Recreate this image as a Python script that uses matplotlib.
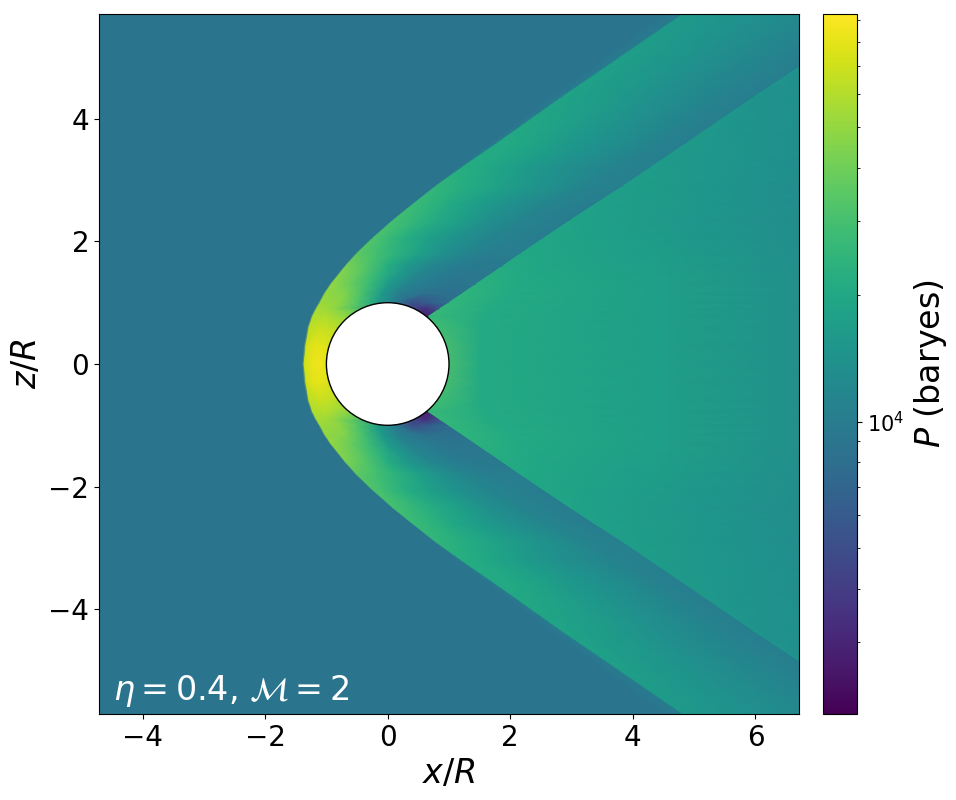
import numpy as np
import matplotlib
matplotlib.use("Agg")
import matplotlib.pyplot as plt
from matplotlib.colors import LogNorm
from matplotlib.patches import Circle

# Upper-half rows of the pressure map (mirrored about z = 0).
z_rows = [0, .3, .6, .78, .9, 1.0, 1.15, 1.3, 1.6, 1.8, 2.05, 2.35, 2.6, 2.9, 3.2, 3.6, 4.36, 5.71]
shock_x = [-1.37, -1.345, -1.29, -1.23, -1.17, -1.11, -1.03, -.93, -.69, -.51, -.25, .09, .40, .78, 1.2, 1.78, 2.85, 4.82]
shock_width = [.04, .04, .04, .04, .04, .04, .04, .04, .04, .04, .05, .05, .06, .08, .10, .14, .22, .40]
band_p = [8800] * 14 + [9900, 9900, 10000, 10000]
p_ambient = 8800

# Post-shock layer: x stations and pressures (baryes), first station just behind the shock
layer_x = [
    [-1.36, -1.25, -1.15, -1.07, -1.0, -.6, -.3, .3],
    [-1.33, -1.2, -1.1, -1.0, -.95, -.6, -.3, .3],
    [-1.28, -1.1, -.95, -.85, -.8, -.4, 0, .5],
    [-1.22, -1.0, -.85, -.7, -.62, .3, .55, .66],
    [-1.16, -.95, -.8, -.6, -.44, .44, .62, .84],
    [-1.10, -.8, -.5, -.2, .05, .4, .7, .99],
    [-1.02, -.7, -.4, -.1, .2, .6, .9, 1.21],
    [-.92, -.6, -.3, 0, .3, .7, 1.05, 1.43],
    [-.68, -.35, 0, .3, .7, 1.1, 1.5, 1.87],
    [-.50, -.2, .1, .5, .9, 1.3, 1.7, 2.16],
    [-.24, 0, .3, .67, 1.05, 1.6, 2.1, 2.53],
    [.10, .5, .8, 1.2, 1.7, 2.2, 2.6, 2.98],
    [.41, .7, 1.05, 1.5, 2.0, 2.6, 3.0, 3.36],
    [.79, 1.1, 1.4, 1.8, 2.3, 2.9, 3.3, 3.83],
    [1.21, 1.5, 1.8, 2.2, 2.7, 3.3, 3.8, 4.27],
    [1.79, 2.1, 2.4, 2.8, 3.3, 3.9, 4.4, 4.86],
    [2.86, 3.2, 3.5, 3.9, 4.4, 5.0, 5.5, 5.97],
    [4.83, 5.2, 5.5, 6.0, 6.5, 7.0, 7.5, 8.0],
]
layer_p = [
    [70700, 81000, 86000, 84000, 80000, 60000, 30000, 25000],
    [70700, 79400, 79400, 76000, 73000, 60000, 30000, 25000],
    [63000, 67000, 65000, 62000, 60000, 40000, 20000, 8000],
    [58500, 58500, 54200, 50200, 46500, 3000, 3000, 2700],
    [56300, 52200, 46500, 38400, 31700, 4350, 3300, 5700],
    [52200, 48300, 33000, 18600, 11300, 5000, 6400, 8160],
    [50200, 44800, 29400, 15900, 10080, 8320, 8320, 8650],
    [50200, 38400, 27200, 16600, 11300, 9700, 9000, 9300],
    [43000, 33000, 21650, 15900, 11740, 10080, 9700, 9700],
    [35600, 29400, 24300, 17900, 13700, 11300, 10100, 10080],
    [31700, 27200, 21650, 17200, 14770, 11740, 10500, 10080],
    [29400, 24300, 20800, 17200, 13200, 11300, 10500, 10080],
    [27200, 24300, 20000, 16600, 13680, 11300, 10500, 10080],
    [24800, 22500, 20800, 17900, 15400, 12700, 10900, 10500],
    [22000, 20800, 18580, 16600, 14200, 12200, 10880, 10500],
    [20800, 20000, 18600, 16500, 14700, 12700, 11000, 10300],
    [18600, 17200, 16500, 15300, 13700, 12100, 11000, 10300],
    [15900, 15300, 14700, 13700, 12700, 11700, 11000, 10300],
]

# Wake: stations behind the oblique wake front
wake_edge_x = [.35, .4, .6, .67, .85, 1.0, 1.22, 1.44, 1.88, 2.17, 2.54, 2.99, 3.37, 3.84, 4.28, 4.87, 5.98, 8.02]
wake_edge_p = [40600, 38300, 30400, 26200, 25700, 25200, 24200, 23400, 21000, 20000, 19600, 18600, 17900, 17200, 16600, 16000, 14800, 13200]
wake_mid1_x = [1.5, 1.5, 1.5, 1.6, 1.7, 1.8, 2.0, 2.2, 2.5, 2.8, 3.0, 3.4, 3.8, 4.2, 4.7, 5.2, 6.2, 8.1]
wake_mid1_p = [20800, 20800, 20800, 20800, 20800, 20800, 20800, 20300, 19600, 19000, 18580, 17600, 16900, 16600, 15900, 15300, 14200, 13200]
wake_mid2_x = [4.4, 4.4, 4.4, 4.4, 4.4, 4.4, 4.4, 4.4, 4.4, 4.5, 4.5, 4.8, 5.1, 5.4, 5.8, 6.2, 7.2, 8.3]
wake_mid2_p = [17200, 17200, 17200, 17200, 17200, 17200, 17200, 17200, 17000, 16600, 16200, 15500, 15400, 14800, 14770, 14200, 13200, 12700]
wake_end_x = 8.5
wake_end_p = 11300

xtick_vals = [-4, -2, 0, 2, 4, 6]
ytick_vals = [-4, -2, 0, 2, 4]

z_arr = np.array(z_rows)
sx = np.array(shock_x)
sw = np.array(shock_width)
n = len(z_arr)
X_up = np.column_stack([
    np.full(n, -5.0), sx - sw, sx - .02, np.array(layer_x),
    np.array(wake_edge_x), np.array(wake_mid1_x), np.array(wake_mid2_x), np.full(n, wake_end_x),
])
P_up = np.column_stack([
    np.full(n, p_ambient), np.full(n, p_ambient), np.array(band_p), np.array(layer_p),
    np.array(wake_edge_p), np.array(wake_mid1_p), np.array(wake_mid2_p), np.full(n, wake_end_p),
])
Z_up = np.repeat(z_arr[:, None], X_up.shape[1], axis=1)

X = np.vstack([X_up[:0:-1], X_up])
P = np.vstack([P_up[:0:-1], P_up])
Z = np.vstack([-Z_up[:0:-1], Z_up])

W, H = 956, 800
fig = plt.figure(figsize=(W / 100, H / 100), dpi=100)
ax = fig.add_axes([99 / W, 1 - 714 / H, 700 / W, 700 / H])
cax = fig.add_axes([823 / W, 1 - 714 / H, 34 / W, 700 / H])

norm = LogNorm(vmin=2020, vmax=93000)
mesh = ax.pcolormesh(X, Z, P, cmap="viridis", norm=norm, shading="gouraud", rasterized=True)
ax.add_patch(Circle((0, 0), 1.0, facecolor="white", edgecolor="black", linewidth=1, zorder=3))
ax.set_xlim(-4.71, 6.71)
ax.set_ylim(-5.71, 5.71)
ax.set_xticks(xtick_vals)
ax.set_yticks(ytick_vals)
ax.tick_params(labelsize=20)
ax.set_xlabel(r"$x/R$", fontsize=24, labelpad=4)
ax.set_ylabel(r"$z/R$", fontsize=24, labelpad=4)
ax.text(-4.48, -5.48, r"$\eta=0.4$, $\mathcal{M}=2$", color="white", fontsize=24)

cb = fig.colorbar(mesh, cax=cax)
cb.ax.tick_params(which="major", labelsize=15)
cb.set_label(r"$P$ (baryes)", fontsize=24, labelpad=6)

fig.savefig("out.png", dpi=100)
